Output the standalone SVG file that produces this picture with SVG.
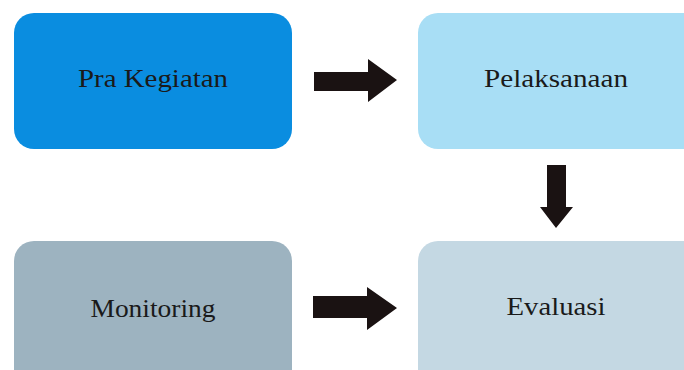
<svg xmlns="http://www.w3.org/2000/svg" width="684" height="370" viewBox="0 0 684 370">
<style>
.lbl{font-family:"Liberation Serif","DejaVu Serif",serif;font-size:26px;fill:#1a1a1a;text-anchor:middle}
.arr{fill:#1a1212}
</style>
<rect width="684" height="370" fill="#ffffff"/>
<g id="pra-kegiatan">
<rect x="14" y="13" width="278" height="136" rx="20" fill="#0a8de0"/>
<text class="lbl" x="153" y="87" textLength="150" lengthAdjust="spacingAndGlyphs">Pra Kegiatan</text>
</g>
<g id="pelaksanaan">
<rect x="418" y="13" width="290" height="136" rx="20" fill="#a8def5"/>
<text class="lbl" x="556" y="87" textLength="144" lengthAdjust="spacingAndGlyphs">Pelaksanaan</text>
</g>
<g id="monitoring">
<rect x="14" y="241" width="278" height="150" rx="20" fill="#9db3c0"/>
<text class="lbl" x="153" y="317" textLength="125" lengthAdjust="spacingAndGlyphs">Monitoring</text>
</g>
<g id="evaluasi">
<rect x="418" y="241" width="290" height="150" rx="20" fill="#c4d8e3"/>
<text class="lbl" x="556" y="315" textLength="99" lengthAdjust="spacingAndGlyphs">Evaluasi</text>
</g>
<g id="connectors">
<polygon class="arr" points="314,72 368,72 368,59 397,80 368,102 368,91 314,91"/>
<polygon class="arr" points="313,296 367,296 367,287 397,308 367,330 367,318 313,318"/>
<polygon class="arr" points="547,165 566,165 566,207 573,207 556,228 540,207 547,207"/>
</g>
</svg>
